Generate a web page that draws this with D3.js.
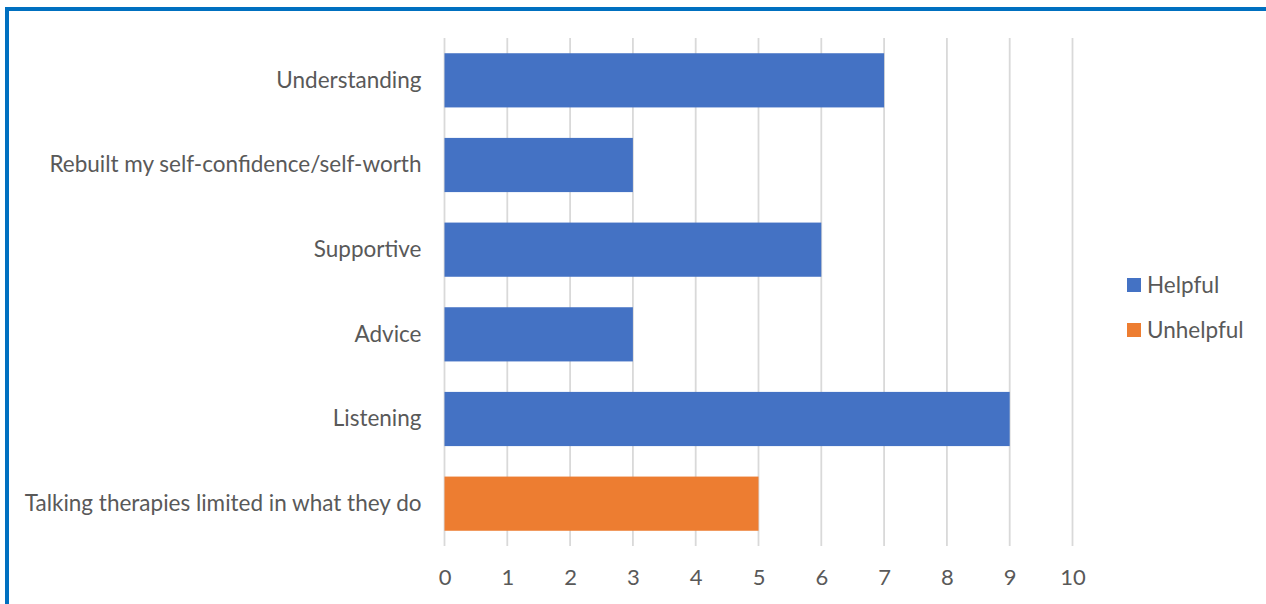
<!DOCTYPE html>
<html>
<head>
<meta charset="utf-8">
<script src="https://cdn.jsdelivr.net/npm/d3@7"></script>
<style>
  html, body { margin: 0; padding: 0; background: #fff; }
  svg { display: block; }
</style>
</head>
<body>
<svg id="chart" width="1266" height="604"></svg>
<script>
// Categories, top to bottom
const categories = [
  "Understanding",
  "Rebuilt my self-confidence/self-worth",
  "Supportive",
  "Advice",
  "Listening",
  "Talking therapies limited in what they do"
];
// Count per category and which series it belongs to
const values = [7, 3, 6, 3, 9, 5];
const seriesOf = ["Helpful", "Helpful", "Helpful", "Helpful", "Helpful", "Unhelpful"];
const seriesNames = ["Helpful", "Unhelpful"];
const seriesColors = ["#4472C4", "#ED7D31"];
const tickValues = [0, 1, 2, 3, 4, 5, 6, 7, 8, 9, 10];

const svg = d3.select("#chart");
const font = "Lato, sans-serif";
const fontSize = "22.5px";
const textColor = "#595959";

// frame: blue rule along the top and left edges
svg.append("rect").attr("x", 5).attr("y", 7).attr("width", 1270).attr("height", 4).attr("fill", "#0070C0");
svg.append("rect").attr("x", 5).attr("y", 7).attr("width", 4).attr("height", 610).attr("fill", "#0070C0");

const plot = { left: 444.5, right: 1072.5, top: 38, bottom: 546 };

const x = d3.scaleLinear().domain([0, 10]).range([plot.left, plot.right]);
const y = d3.scaleBand().domain(categories).range([plot.top, plot.bottom]).paddingInner(0.36).paddingOuter(0.18);
const color = d3.scaleOrdinal().domain(seriesNames).range(seriesColors);

// vertical gridlines
svg.append("g")
  .selectAll("line")
  .data(tickValues)
  .join("line")
  .attr("x1", d => x(d)).attr("x2", d => x(d))
  .attr("y1", plot.top).attr("y2", plot.bottom)
  .attr("stroke", "#d9d9d9")
  .attr("stroke-width", 1.8);

// bars
svg.append("g")
  .selectAll("rect")
  .data(categories)
  .join("rect")
  .attr("x", x(0))
  .attr("y", d => y(d))
  .attr("width", (d, i) => x(values[i]) - x(0))
  .attr("height", y.bandwidth())
  .attr("fill", (d, i) => color(seriesOf[i]));

// x axis labels
const xAxis = d3.axisBottom(x).tickValues(tickValues).tickSize(0).tickPadding(0).tickFormat(d3.format("d"));
const gx = svg.append("g").attr("transform", `translate(0,${plot.bottom})`).call(xAxis);
gx.select(".domain").remove();
gx.selectAll("text")
  .attr("y", 31)
  .attr("dy", "0.35em")
  .attr("fill", textColor)
  .style("font-family", font)
  .style("font-size", "22px");

// category labels
const yAxis = d3.axisLeft(y).tickSize(0).tickPadding(23);
const gy = svg.append("g").attr("transform", `translate(${plot.left},0)`).call(yAxis);
gy.select(".domain").remove();
gy.selectAll("text")
  .attr("fill", textColor)
  .style("font-family", font)
  .style("font-size", fontSize);

// legend
const legend = svg.append("g").attr("transform", "translate(1127,278)");
const item = legend.selectAll("g")
  .data(seriesNames)
  .join("g")
  .attr("transform", (d, i) => `translate(0,${i * 45})`);
item.append("rect").attr("width", 14).attr("height", 14).attr("fill", d => color(d));
item.append("text")
  .attr("x", 20).attr("y", 7).attr("dy", "0.35em")
  .attr("fill", textColor)
  .style("font-family", font)
  .style("font-size", fontSize)
  .text(d => d);
</script>
</body>
</html>
